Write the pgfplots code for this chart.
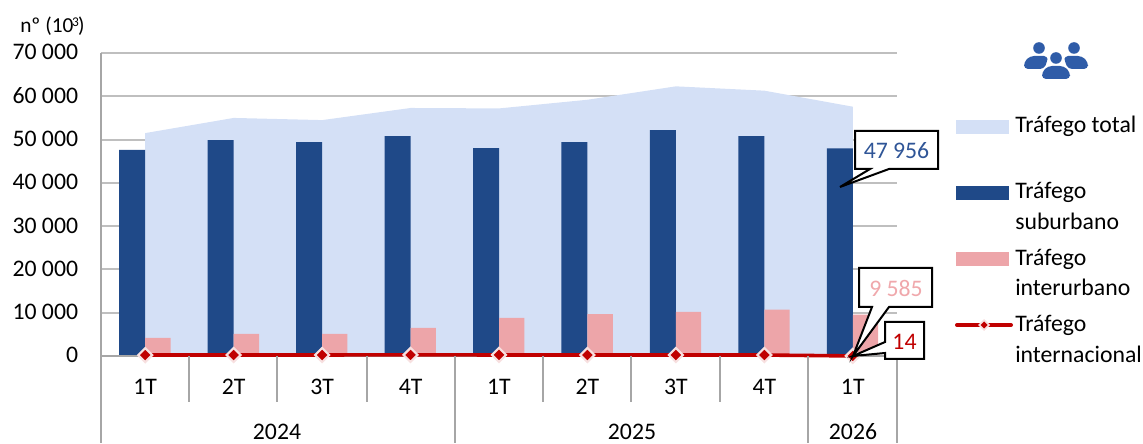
\documentclass[border=0pt]{standalone}
\usepackage{pgfplots}
\pgfplotsset{compat=1.18}
\usepackage{fontspec}
\setmainfont{Carlito}
\definecolor{sub}{HTML}{1F4988}
\definecolor{tot}{HTML}{D4E0F6}
\definecolor{inter}{HTML}{EDA5A9}
\definecolor{intl}{HTML}{C00000}
\definecolor{gridc}{HTML}{BFBFBF}
\definecolor{axisc}{HTML}{A6A6A6}
\definecolor{iconc}{HTML}{2F5CA8}
\definecolor{lblblue}{HTML}{2F5597}
\definecolor{lblpink}{HTML}{F0A8AC}
\begin{document}
\begin{tikzpicture}[font=\fontsize{17.8pt}{20pt}\selectfont]
\useasboundingbox (0,0) rectangle (857.25pt,332.25pt);
\begin{axis}[
  at={(75.75pt,65.25pt)},anchor=south west,
  scale only axis,width=597pt,height=227.25pt,
  xmin=-0.5,xmax=8.5,ymin=0,ymax=70000,
  clip=false,
  scaled y ticks=false,
  axis line style={draw=none},
  major tick length=0pt,
  ytick={0,10000,20000,30000,40000,50000,60000,70000},
  yticklabels={0,10 000,20 000,30 000,40 000,50 000,60 000,70 000},
  yticklabel style={inner sep=0pt,xshift=-17pt,anchor=base east,yshift=-5.2pt},
  xtick={0,...,8},
  xticklabels={1T,2T,3T,4T,1T,2T,3T,4T,1T},
  xticklabel style={inner sep=0pt,anchor=base,yshift=-29.2pt},
  ymajorgrids,
  grid style={gridc,line width=1.5pt},
]
% total traffic, drawn as an area behind the bars
\addplot[fill=tot,draw=none] coordinates {
  (0,51500)(1,55000)(2,54500)(3,57300)(4,57200)(5,59200)(6,62300)(7,61300)(8,57600)
} \closedcycle;
% suburban
\addplot[ybar,bar width=19.5pt,bar shift=-9.75pt,fill=sub,draw=none] coordinates {
  (0,47600)(1,49900)(2,49400)(3,50800)(4,48000)(5,49400)(6,52200)(7,50800)(8,47956)
};
% interurban
\addplot[ybar,bar width=19pt,bar shift=9.5pt,fill=inter,draw=none] coordinates {
  (0,4200)(1,5100)(2,5100)(3,6500)(4,8800)(5,9700)(6,10200)(7,10700)(8,9585)
};
% frame of the category axis
\draw[axisc,line width=1.5pt] (axis cs:-0.5,70000) -- (axis cs:-0.5,0) -- (axis cs:8.5,0);
% international
\addplot[intl,line width=2.7pt,mark=square*,
  mark options={rotate=45,fill=intl,draw=intl!12,line width=1.6pt},mark size=3.7pt] coordinates {
  (0,220)(1,230)(2,240)(3,250)(4,240)(5,230)(6,230)(7,220)(8,14)
};
\end{axis}
\begin{scope}[x=0.75pt,y=-0.75pt,yshift=332.25pt]
% separators of the two-level category axis
\foreach \x in {189,277,367,543,631,720}
  \draw[axisc,line width=1.5pt] (\x,356) -- (\x,402);
\foreach \x in {101,455,808,897}
  \draw[axisc,line width=1.5pt] (\x,356) -- (\x,443);
% year labels and unit
\node[anchor=base,inner sep=0pt] at (277,440) {2024};
\node[anchor=base,inner sep=0pt] at (632,440) {2025};
\node[anchor=base,inner sep=0pt] at (853,440) {2026};
\node[anchor=base west,inner sep=0pt,font=\fontsize{16pt}{18pt}\selectfont] at (20,33) {nº (10\kern-1pt\raisebox{5pt}{\fontsize{10pt}{12pt}\selectfont 3}\kern-0.5pt)};
% value callouts
\draw[black,line width=1.5pt,fill=white,line join=miter]
  (855,131) -- (938,131) -- (938,169) -- (889,169) -- (840,187) -- (870,169) -- (855,169) -- cycle;
\node[anchor=base,inner sep=0pt,text=lblblue] at (896.5,159) {47 956};
\draw[black,line width=1.5pt,fill=white]
  (859,268) -- (932,268) -- (932,307) -- (889,307) -- (853,356) -- (872,307) -- (859,307) -- cycle;
\node[anchor=base,inner sep=0pt,text=lblpink] at (896,297) {9 585};
\draw[black,line width=1.5pt,fill=white]
  (885,322) -- (924,322) -- (924,359) -- (885,359) -- (885,353) -- (853,356) -- (885,342) -- cycle;
\node[anchor=base,inner sep=0pt,text=intl] at (904.5,350) {14};
% legend
\fill[tot] (956,120) rectangle (1009,134);
\fill[sub] (956,186) rectangle (1009,200);
\fill[inter] (956,252) rectangle (1009,266);
\draw[intl,line width=3pt,line cap=round] (957,325) -- (1011,325);
\fill[intl!12] (984,319) -- (990,325) -- (984,331) -- (978,325) -- cycle;
\fill[intl] (984,321.5) -- (987.5,325) -- (984,328.5) -- (980.5,325) -- cycle;
\node[anchor=base west,inner sep=0pt] at (1015,133) {Tráfego total};
\node[anchor=base west,inner sep=0pt] at (1015,199) {Tráfego};
\node[anchor=base west,inner sep=0pt] at (1015,230) {suburbano};
\node[anchor=base west,inner sep=0pt] at (1015,265.5) {Tráfego};
\node[anchor=base west,inner sep=0pt] at (1015,295.5) {interurbano};
\node[anchor=base west,inner sep=0pt] at (1015,332) {Tráfego};
\node[anchor=base west,inner sep=0pt] at (1015,362.5) {internacional};
% people icon
\fill[iconc] (1039,48) circle (5.8);
\fill[iconc] (1074,48) circle (5.8);
\fill[iconc] (1056,58) circle (5.8);
\fill[iconc,rounded corners=3] (1024,69) -- (1024,62) -- (1030,56) -- (1048,56) -- (1047,62) -- (1044,69) -- cycle;
\fill[iconc,rounded corners=3] (1088,69) -- (1088,62) -- (1082,56) -- (1064,56) -- (1065,62) -- (1068,69) -- cycle;
\fill[iconc,rounded corners=3] (1042,79) -- (1042,72) -- (1048,66) -- (1064,66) -- (1070,72) -- (1070,79) -- cycle;
\end{scope}
\end{tikzpicture}
\end{document}
